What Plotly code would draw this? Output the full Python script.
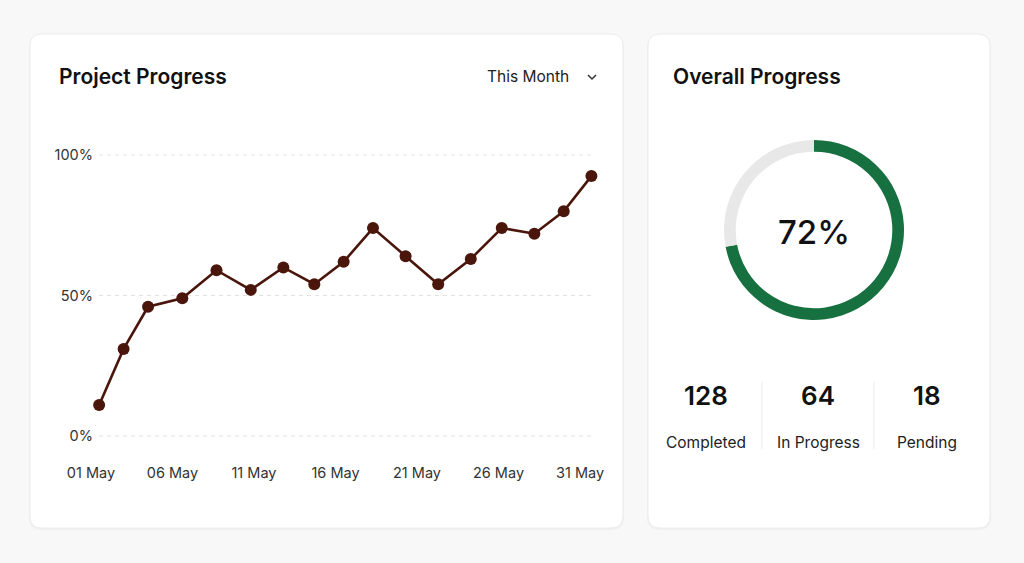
import plotly.graph_objects as go

W, H = 1024, 563

# ---------------- data ----------------
days = [1.5, 3.0, 4.5, 6.6, 8.7, 10.8, 12.8, 14.7, 16.5, 18.3, 20.3, 22.3, 24.3, 26.2, 28.2, 30.0, 31.7]
progress = [11, 31, 46, 49, 59, 52, 60, 54, 62, 74, 64, 54, 63, 74, 72, 80, 92.5]
x_tick_vals = [1, 6, 11, 16, 21, 26, 31]
x_tick_text = ["01 May", "06 May", "11 May", "16 May", "21 May", "26 May", "31 May"]
y_tick_vals = [0, 50, 100]
y_tick_text = ["0%", "50%", "100%"]

overall_pct = 72
stat_values = ["128", "64", "18"]
stat_labels = ["Completed", "In Progress", "Pending"]

FONT = "Inter"
LINE_COL = "#4a150b"
GREEN = "#17703f"

def px(x):
    return x / W

def py(y):
    return 1 - y / H

# pixel mapping for line chart
x0px, x1px = 60, 612
def day_at(p):
    return 1 + (p - 91) / 16.3
y_top_px, y_bot_px = 130, 452
def val_at(p):
    return (436 - p) / 2.81

fig = go.Figure()

fig.add_trace(go.Scatter(
    x=days, y=progress, mode="lines+markers",
    line=dict(color=LINE_COL, width=2.6),
    marker=dict(color=LINE_COL, size=12),
    xaxis="x", yaxis="y", showlegend=False, hoverinfo="skip",
))

fig.add_trace(go.Pie(
    values=[overall_pct, 100 - overall_pct],
    marker=dict(colors=[GREEN, "#e8e8e8"], line=dict(width=0)),
    hole=0.87, sort=False, direction="clockwise", rotation=0,
    textinfo="none", hoverinfo="skip", showlegend=False,
    domain=dict(x=[px(724), px(904)], y=[py(320), py(140)]),
))

shapes = []
def rounded_rect(x0, y0, x1, y1, r, fill, line):
    path = (f"M {px(x0+r)},{py(y0)} L {px(x1-r)},{py(y0)} "
            f"Q {px(x1)},{py(y0)} {px(x1)},{py(y0+r)} "
            f"L {px(x1)},{py(y1-r)} Q {px(x1)},{py(y1)} {px(x1-r)},{py(y1)} "
            f"L {px(x0+r)},{py(y1)} Q {px(x0)},{py(y1)} {px(x0)},{py(y1-r)} "
            f"L {px(x0)},{py(y0+r)} Q {px(x0)},{py(y0)} {px(x0+r)},{py(y0)} Z")
    return dict(type="path", xref="paper", yref="paper", path=path,
                fillcolor=fill, line=dict(color=line, width=1), layer="below")

# subtle shadows
shapes.append(rounded_rect(29, 35, 624, 530, 13, "#f0f0f0", "rgba(0,0,0,0)"))
shapes.append(rounded_rect(647, 35, 991, 530, 13, "#f0f0f0", "rgba(0,0,0,0)"))
shapes.append(rounded_rect(30, 34, 623, 528, 12, "#ffffff", "#ececec"))
shapes.append(rounded_rect(648, 34, 990, 528, 12, "#ffffff", "#ececec"))

# dashed gridlines
for v in y_tick_vals:
    shapes.append(dict(type="line", xref="paper", yref="y", x0=px(99), x1=px(595), y0=v, y1=v,
                       line=dict(color="#e2e2e2", width=1, dash="4px,4px"), layer="below"))

# dividers in stats row
for xd in [762, 874]:
    shapes.append(dict(type="line", xref="paper", yref="paper", x0=px(xd), x1=px(xd),
                       y0=py(382), y1=py(449), line=dict(color="#ececec", width=1)))

# chevron
shapes.append(dict(type="path", xref="paper", yref="paper",
                   path=f"M {px(588)},{py(75)} L {px(592)},{py(79)} L {px(596)},{py(75)}",
                   line=dict(color="#333333", width=1.5)))

annotations = [
    dict(text="Project Progress", x=px(57), y=py(77), xanchor="left", yanchor="middle",
         font=dict(family=FONT, size=21, color="#111111", weight=600)),
    dict(text="This Month", x=px(571), y=py(77), xanchor="right", yanchor="middle",
         font=dict(family=FONT, size=15.5, color="#222222")),
    dict(text="Overall Progress", x=px(671), y=py(77), xanchor="left", yanchor="middle",
         font=dict(family=FONT, size=21, color="#111111", weight=600)),
    dict(text=f"{overall_pct}%", x=px(814), y=py(232), xanchor="center", yanchor="middle",
         font=dict(family=FONT, size=33, color="#111111", weight=500)),
]
for cx, v, lab in zip([706, 818, 927], stat_values, stat_labels):
    annotations.append(dict(text=v, x=px(cx), y=py(395), xanchor="center", yanchor="middle",
                            font=dict(family=FONT, size=26, color="#111111", weight=600)))
    annotations.append(dict(text=lab, x=px(cx), y=py(442), xanchor="center", yanchor="middle",
                            font=dict(family=FONT, size=15.5, color="#222222")))
for a in annotations:
    a.update(xref="paper", yref="paper", showarrow=False)

fig.update_layout(
    width=W, height=H, margin=dict(l=0, r=0, t=0, b=0),
    paper_bgcolor="#f8f8f8", plot_bgcolor="rgba(0,0,0,0)",
    font=dict(family=FONT),
    xaxis=dict(domain=[px(x0px), px(x1px)], range=[day_at(x0px), day_at(x1px)],
               tickvals=x_tick_vals, ticktext=x_tick_text, showgrid=False, zeroline=False,
               showline=False, ticks="", tickfont=dict(family=FONT, size=14.5, color="#333333"),
               ticklabelstandoff=10, fixedrange=True),
    yaxis=dict(domain=[py(y_bot_px), py(y_top_px)], range=[val_at(y_bot_px), val_at(y_top_px)],
               anchor="free", position=px(93),
               tickvals=y_tick_vals, ticktext=y_tick_text, showgrid=False, zeroline=False,
               showline=False, ticks="", tickfont=dict(family=FONT, size=14.5, color="#333333"),
               fixedrange=True),
    shapes=shapes, annotations=annotations,
)

fig.write_html(
    "out.html",
    config={"displayModeBar": False},
    post_script="document.body.style.margin='0';document.body.style.background='#f8f8f8';",
)
